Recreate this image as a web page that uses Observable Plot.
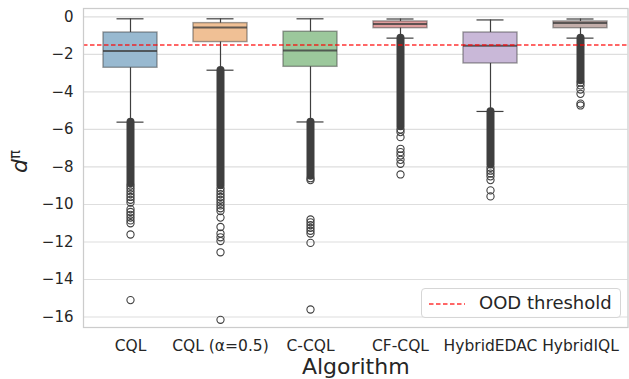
<!DOCTYPE html>
<html>
<head>
<meta charset="utf-8">
<script src="https://cdn.jsdelivr.net/npm/d3@7"></script>
<script src="https://cdn.jsdelivr.net/npm/@observablehq/plot@0.6"></script>
<style>
  html, body { margin: 0; padding: 0; background: #fff; }
  #wrap { position: relative; width: 629px; height: 379px; overflow: hidden; font-family: "DejaVu Sans", sans-serif; }
  #legend { position: absolute; left: 421px; top: 288px; width: 200px; height: 30px; border: 1px solid #d6d6d6; border-radius: 4px; background: rgba(255,255,255,0.85); box-sizing: border-box; }
  #legend svg { position: absolute; left: 6px; top: 13px; }
  #legend span { position: absolute; left: 57px; top: 3px; font-size: 18px; color: #262626; white-space: nowrap; }
</style>
</head>
<body>
<div id="wrap"></div>
<script>
// ---- data ----
const algorithms = ["CQL", "CQL (α=0.5)", "C-CQL", "CF-CQL", "HybridEDAC", "HybridIQL"];
const whiskerHigh = [-0.10, -0.10, -0.10, -0.11, -0.16, -0.11];
const q3          = [-0.83, -0.33, -0.79, -0.24, -0.83, -0.24];
const median      = [-1.82, -0.56, -1.79, -0.37, -1.54, -0.32];
const q1          = [-2.71, -1.34, -2.66, -0.60, -2.48, -0.60];
const whiskerLow  = [-5.61, -2.84, -5.60, -1.13, -5.04, -1.13];
// dense (overplotted) outlier runs
const denseTop    = [-5.62, -2.85, -5.61, -1.14, -5.05, -1.14];
const denseBottom = [-8.90, -9.00, -8.50, -5.85, -7.90, -3.40];
// individually visible outliers
const outliersCQL     = [-9.0, -9.15, -9.3, -9.45, -9.6, -9.75, -9.9, -10.25, -10.4, -10.55, -10.7, -10.85, -11.0, -11.6, -15.1];
const outliersCQLa    = [-9.15, -9.3, -9.45, -9.6, -9.75, -9.9, -10.05, -10.2, -10.35, -10.7, -11.2, -11.55, -11.75, -11.95, -12.55, -16.15];
const outliersCCQL    = [-8.6, -8.7, -10.8, -10.95, -11.1, -11.25, -11.4, -11.55, -12.05, -15.6];
const outliersCFCQL   = [-6.0, -6.14, -6.41, -7.03, -7.21, -7.39, -7.62, -7.83, -8.4];
const outliersEDAC    = [-8.05, -8.2, -8.35, -8.5, -8.7, -9.25, -9.57];
const outliersIQL     = [-3.5, -3.65, -3.87, -4.1, -4.62, -4.72];
const threshold = -1.5;
const yTicks = [0, -2, -4, -6, -8, -10, -12, -14, -16];
const palette = ["#98b9d0", "#f0c095", "#9cc89c", "#e09d9d", "#c9b8d8", "#c2ada9"];

// ---- tables built from the arrays ----
const boxes = algorithms.map((a, i) => ({
  algorithm: a, hi: whiskerHigh[i], q3: q3[i], med: median[i], q1: q1[i], lo: whiskerLow[i],
  dTop: denseTop[i], dBot: denseBottom[i]
}));
const outlierLists = [outliersCQL, outliersCQLa, outliersCCQL, outliersCFCQL, outliersEDAC, outliersIQL];
const outliers = outlierLists.flatMap((list, i) => list.map(v => ({algorithm: algorithms[i], value: v})));

const ink = "#3f3f3f";
const boxInset = 18;
const capInset = 31.5;

const chart = Plot.plot({
  width: 629,
  height: 379,
  marginLeft: 83,
  marginRight: 1.5,
  marginTop: 8,
  marginBottom: 52,
  style: {fontFamily: "DejaVu Sans, sans-serif", color: "#262626", background: "#fff", overflow: "visible"},
  x: {type: "band", domain: algorithms, padding: 0},
  y: {domain: [-16.56, 0.45]},
  color: {domain: algorithms, range: palette},
  marks: [
    Plot.gridY(yTicks, {stroke: "#dedede", strokeOpacity: 1, strokeWidth: 1.2}),
    Plot.axisY({ticks: yTicks, tickSize: 0, tickPadding: 10, tickFormat: d3.format(""), label: null, fontSize: 15}),
    Plot.axisX({tickSize: 0, tickPadding: 12, label: null, fontSize: 15.5}),
    // whiskers
    Plot.ruleX(boxes, {x: "algorithm", y1: "lo", y2: "hi", stroke: ink, strokeWidth: 1.2}),
    Plot.tickY(boxes, {x: "algorithm", y: "hi", stroke: ink, strokeWidth: 1.2, insetLeft: capInset, insetRight: capInset}),
    Plot.tickY(boxes, {x: "algorithm", y: "lo", stroke: ink, strokeWidth: 1.2, insetLeft: capInset, insetRight: capInset}),
    // boxes
    Plot.rectY(boxes, {x: "algorithm", y1: "q1", y2: "q3", fill: "algorithm", stroke: ink, strokeOpacity: 0.5, strokeWidth: 1.4, insetLeft: boxInset, insetRight: boxInset}),
    Plot.tickY(boxes, {x: "algorithm", y: "med", stroke: ink, strokeOpacity: 0.8, strokeWidth: 2, insetLeft: boxInset, insetRight: boxInset}),
    // dense outlier runs
    Plot.ruleX(boxes, {x: "algorithm", y1: "dTop", y2: "dBot", stroke: ink, strokeWidth: 8, strokeLinecap: "round"}),
    // individual outliers
    Plot.dot(outliers, {x: "algorithm", y: "value", r: 3.6, stroke: ink, strokeWidth: 1.1, fill: "none"}),
    // threshold
    Plot.ruleY([threshold], {stroke: "#ff0000", strokeOpacity: 0.8, strokeWidth: 1.4, strokeDasharray: "4.5,2.5"}),
    Plot.frame({stroke: "#cccccc", strokeWidth: 1.25}),
    // axis titles
    Plot.text(["Algorithm"], {frameAnchor: "bottom", dy: 31, lineAnchor: "top", fontSize: 22, fill: "#262626"}),
    Plot.text(["d"], {frameAnchor: "left", dx: -64, dy: 5, rotate: -90, fontSize: 22, fontStyle: "italic", fill: "#262626"}),
    Plot.text(["π"], {frameAnchor: "left", dx: -68, dy: -9, rotate: -90, fontSize: 15, fill: "#262626"})
  ]
});

const wrap = document.getElementById("wrap");
wrap.appendChild(chart);

// legend
const legend = document.createElement("div");
legend.id = "legend";
legend.innerHTML = `<svg width="40" height="4"><line x1="1" x2="37" y1="2" y2="2" stroke="#ff0000" stroke-opacity="0.8" stroke-width="1.4" stroke-dasharray="4.5,2.5"/></svg><span>OOD threshold</span>`;
wrap.appendChild(legend);
</script>
</body>
</html>
